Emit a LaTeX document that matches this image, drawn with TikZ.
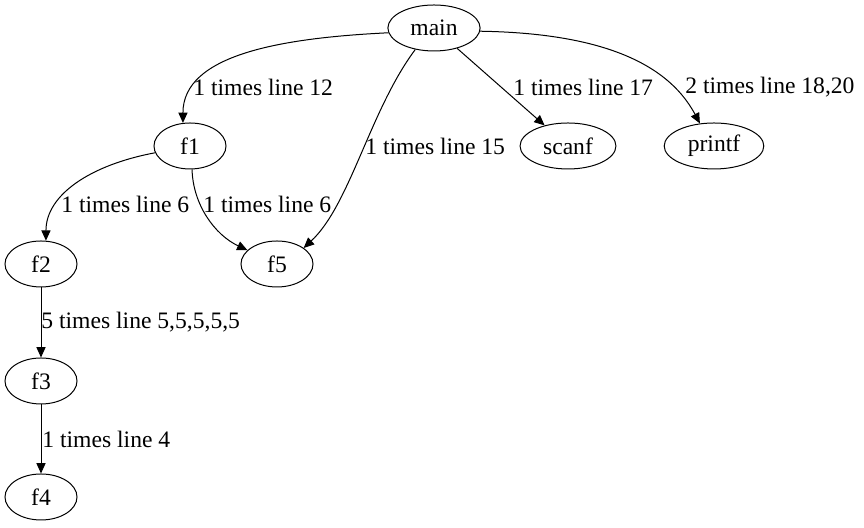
\documentclass[tikz,border=0pt]{standalone}
\usepackage{fontspec}
\setmainfont{Liberation Serif}
\usetikzlibrary{shapes.geometric,arrows.meta}

\begin{document}
\begin{tikzpicture}[x=0.5pt,y=0.5pt,
		fn/.style={draw,ellipse,line width=0.5pt,inner xsep=4.5pt,inner ysep=0pt,
			minimum width=36pt,minimum height=23pt,font=\fontsize{11.8}{14}\selectfont},
		call/.style={draw,line width=0.5pt,-{Triangle[length=5.2pt,width=4.6pt]}},
		lbl/.style={anchor=west,inner sep=0pt,font=\fontsize{11.8}{14}\selectfont}]
		% Fix the page size
		\useasboundingbox (0,0) rectangle (864,528);
		
		% Functions
		\node[fn] (main) at (434,500) {main};
		\node[fn] (f1) at (190,382) {f1};
		\node[fn] (scanf) at (568,382) {scanf};
		\node[fn] (printf) at (714,382) {printf};
		\node[fn] (f2) at (41,264) {f2};
		\node[fn] (f5) at (277,264) {f5};
		\node[fn] (f3) at (41,147) {f3};
		\node[fn] (f4) at (41,31) {f4};
		
		% Calls from main
		\draw[call] (main.186) .. controls (280,490) and (183,473) .. (f1.107);
		\draw[call] (main.229) .. controls (370,418) and (350,323) .. (f5.31);
		\draw[call] (main) -- (scanf);
		\draw[call] (main.356) .. controls (590,495) and (665,470) .. (printf.122);
		
		% Calls from f1
		\draw[call] (f1.191) .. controls (90,363) and (46,333) .. (f2.78);
		\draw[call] (f1.275) .. controls (193,323) and (215,293) .. (f5.155);
		
		% Chain down
		\draw[call] (f2) -- (f3);
		\draw[call] (f3) -- (f4);
		
		% Edge labels
		\node[lbl] (l12) at (193,441) {1 times line 12};
		\node[lbl] (l15) at (365,382) {1 times line 15};
		\node[lbl] (l17) at (513,441) {1 times line 17};
		\node[lbl] (l18) at (685,441) {2 times line 18,20};
		\node[lbl] (l6a) at (61,324) {1 times line 6};
		\node[lbl] (l6b) at (203,324) {1 times line 6};
		\node[lbl] (l5) at (41,206) {5 times line 5,5,5,5,5};
		\node[lbl] (l4) at (42,89) {1 times line 4};
	\end{tikzpicture}
\end{document}
